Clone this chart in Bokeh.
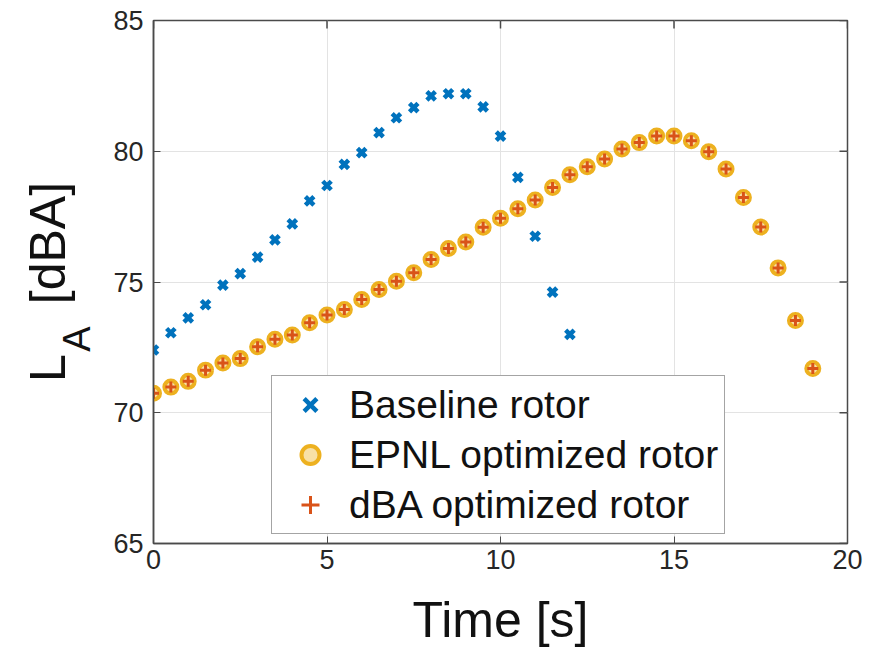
import numpy as np
from bokeh.plotting import figure
from bokeh.models import (ColumnDataSource, FixedTicker, LinearAxis, Legend, LegendItem, Range1d)
from bokeh.embed import file_html
from bokeh.resources import INLINE

# ---- data ----
baseline_time = [0, 0.5, 1, 1.5, 2, 2.5, 3, 3.5, 4, 4.5, 5, 5.5, 6, 6.5, 7, 7.5, 8, 8.5,
                 9, 9.5, 10, 10.5, 11, 11.5, 12]
baseline_la = [72.40, 73.06, 73.63, 74.13, 74.88, 75.32, 75.95, 76.61, 77.22, 78.10, 78.69,
               79.50, 79.95, 80.71, 81.28, 81.67, 82.12, 82.20, 82.20, 81.70, 80.58, 79.00,
               76.75, 74.61, 73.00]

opt_time = [0, 0.5, 1, 1.5, 2, 2.5, 3, 3.5, 4, 4.5, 5, 5.5, 6, 6.5, 7, 7.5, 8, 8.5, 9, 9.5,
            10, 10.5, 11, 11.5, 12, 12.5, 13, 13.5, 14, 14.5, 15, 15.5, 16, 16.5, 17, 17.5,
            18, 18.5, 19]
epnl_la = [70.75, 70.98, 71.20, 71.63, 71.90, 72.07, 72.52, 72.81, 72.97, 73.44, 73.74,
           73.95, 74.33, 74.71, 75.03, 75.35, 75.86, 76.28, 76.53, 77.09, 77.44, 77.80,
           78.14, 78.61, 79.10, 79.41, 79.70, 80.09, 80.33, 80.58, 80.58, 80.40, 79.98,
           79.32, 78.23, 77.10, 75.54, 73.53, 71.69]
dba_la = [70.75, 70.98, 71.20, 71.63, 71.90, 72.07, 72.52, 72.81, 72.97, 73.44, 73.74,
          73.95, 74.33, 74.71, 75.03, 75.35, 75.86, 76.28, 76.53, 77.09, 77.44, 77.80,
          78.14, 78.61, 79.10, 79.41, 79.70, 80.09, 80.33, 80.58, 80.58, 80.40, 79.98,
          79.32, 78.23, 77.10, 75.54, 73.53, 71.69]

x_ticks = [0, 5, 10, 15, 20]
y_ticks = [65, 70, 75, 80, 85]
series_names = ["Baseline rotor", "EPNL optimized rotor", "dBA optimized rotor"]
x_title = "Time [s]"
y_title_main = "L\u2003[dBA]"      # L, gap for the subscript, [dBA]
y_title_sub = "A\u2003\u2003\u2003"  # subscript A (trailing em spaces move it down)

FONT = "Liberation Sans"
AX_COL = "#4a4a4a"
TXT_COL = "#262626"

p = figure(width=892, height=658, output_backend="svg", toolbar_location=None,
           x_range=Range1d(0, 20), y_range=Range1d(65, 85),
           min_border_left=153, min_border_right=45, min_border_top=20,
           min_border_bottom=115)
p.background_fill_color = "white"
p.border_fill_color = "white"
p.outline_line_color = AX_COL
p.outline_line_width = 1.5

for ax, ticks in ((p.xaxis[0], x_ticks), (p.yaxis[0], y_ticks)):
    ax.ticker = FixedTicker(ticks=ticks)
    ax.minor_tick_line_color = None
    ax.major_tick_in = 7
    ax.major_tick_out = 0
    ax.major_tick_line_color = AX_COL
    ax.axis_line_color = AX_COL
    ax.axis_line_width = 1.5
    ax.major_label_text_font = FONT
    ax.major_label_text_font_size = "27px"
    ax.major_label_text_color = TXT_COL
    ax.axis_label_text_font = FONT
    ax.axis_label_text_font_style = "normal"
    ax.axis_label_text_color = "#111111"

p.xaxis[0].major_label_standoff = 6
p.yaxis[0].major_label_standoff = 10
p.xaxis[0].axis_label = x_title
p.xaxis[0].axis_label_text_font_size = "50px"
p.xaxis[0].axis_label_standoff = 20

# subscript "A" as the label of the ticked y axis (sits just left of the tick labels)
p.yaxis[0].axis_label = y_title_sub
p.yaxis[0].axis_label_text_font_size = "38px"
p.yaxis[0].axis_label_standoff = 12

# outer, tick-less axis carrying "L   [dBA]"
outer = LinearAxis(ticker=FixedTicker(ticks=[]), axis_label=y_title_main)
outer.axis_line_color = None
outer.major_tick_line_color = None
outer.minor_tick_line_color = None
outer.major_tick_in = 0
outer.major_tick_out = 0
outer.axis_label_text_font = FONT
outer.axis_label_text_font_style = "normal"
outer.axis_label_text_font_size = "50px"
outer.axis_label_text_color = "#111111"
outer.axis_label_standoff = -22
p.add_layout(outer, "left")

p.xgrid.ticker = FixedTicker(ticks=x_ticks)
p.ygrid.ticker = FixedTicker(ticks=y_ticks)
p.grid.grid_line_color = "#e3e3e3"
p.grid.grid_line_width = 1

# box ticks on the top and right edges (half of each dash is clipped by the frame)
p.scatter(x=x_ticks, y=[85] * len(x_ticks), marker="dash", angle=np.pi / 2, size=16,
          line_color=AX_COL, line_width=1.5)
p.scatter(x=[20] * len(y_ticks), y=y_ticks, marker="dash", size=16,
          line_color=AX_COL, line_width=1.5)

src_b = ColumnDataSource(dict(t=baseline_time, la=baseline_la))
src_e = ColumnDataSource(dict(t=opt_time, la=epnl_la))
src_d = ColumnDataSource(dict(t=opt_time, la=dba_la))

r_b = p.scatter("t", "la", source=src_b, marker="x", size=12, line_width=4.5,
                line_color="#0072BD")
r_e = p.scatter("t", "la", source=src_e, marker="circle", size=13, line_width=4,
                line_color="#EDB120", fill_color="#EDB120", fill_alpha=0.4)
r_d = p.scatter("t", "la", source=src_d, marker="cross", size=11, line_width=3,
                line_color="#D95319")

legend = Legend(items=[LegendItem(label=series_names[0], renderers=[r_b]),
                       LegendItem(label=series_names[1], renderers=[r_e]),
                       LegendItem(label=series_names[2], renderers=[r_d])],
                location=(118, 9), orientation="vertical")
legend.label_text_font = FONT
legend.label_text_font_size = "39px"
legend.label_text_color = "#111111"
legend.label_height = 45
legend.glyph_height = 45
legend.glyph_width = 64
legend.spacing = 5
legend.padding = 6
legend.margin = 0
legend.label_standoff = 7
legend.border_line_color = AX_COL
legend.border_line_width = 1.5
legend.background_fill_color = "white"
legend.background_fill_alpha = 1.0
p.add_layout(legend, "center")

open("out.html", "w").write(file_html(p, INLINE))
